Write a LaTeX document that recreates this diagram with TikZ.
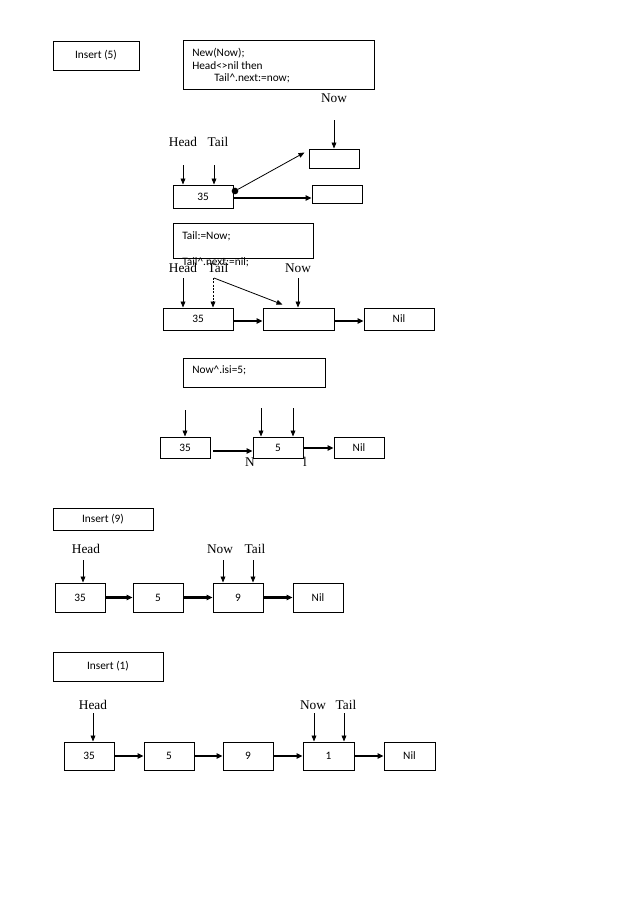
\documentclass[tikz,border=0pt]{standalone}
\usepackage{fontspec}
\setmainfont{Liberation Serif}
\newfontfamily\calfont{Carlito}
\usetikzlibrary{fit,calc,arrows.meta}
\begin{document}
\begin{tikzpicture}[x=0.75pt,y=-0.75pt,
  box/.style={draw,line width=0.75pt,inner sep=0pt,fill=white},
  txt/.style={inner sep=0pt,font=\calfont\fontsize{8.5}{10}\selectfont},
  code/.style={anchor=west,inner sep=0pt,font=\calfont\fontsize{8.5}{10}\selectfont},
  lbl/.style={inner sep=0pt,font=\fontsize{10}{12}\selectfont},
  ptr/.style={line width=0.6pt,-{Triangle[length=4.5pt,width=3.6pt]}},
  link/.style={line width=1.7pt,-{Triangle[length=4.5pt,width=4pt]}}]
\useasboundingbox (0,0) rectangle (638,903);

% ---------- Section 1 ----------
\node[box,fit={(53,41)(139,70)}] (ins5) {};
\node[txt] (ins5t) at (ins5.center) {Insert (5)};
\node[box,fit={(183,40)(374,89)}] (code1) {};
\node[code] (c1a) at (192,53) {New(Now);};
\node[code] (c1b) at (192,65.5) {Head<>nil then};
\node[code] (c1c) at (214,78) {Tail\textasciicircum.next:=now;};
\node[lbl] (now1) at (334,98) {Now};
\node[box,fit={(309,149)(359,168)}] (up1) {};
\node[box,fit={(312,185)(362,203)}] (lo1) {};
\node[box,fit={(173,185)(233,208)}] (a35) {};
\node[txt] (a35t) at (a35.center) {35};
\node[lbl] (head1) at (183,142) {Head};
\node[lbl] (tail1) at (218,142) {Tail};
\coordinate (now1s) at (334,120);
\coordinate (head1s) at (183,165);
\coordinate (tail1s) at (214,165);
\draw[ptr] (now1s) -- (now1s |- up1.north);
\draw[ptr] (head1s) -- (head1s |- a35.north);
\draw[ptr] (tail1s) -- (tail1s |- a35.north);
\node[circle,fill,inner sep=0pt,minimum size=5pt] (dot1) at (235,191) {};
\draw[ptr] (dot1) -- ($(up1.north west)+(-4,4)$);
\coordinate (l1s) at (233,198);
\draw[link] (l1s) -- (l1s -| lo1.west);

% ---------- Section 2 ----------
\node[box,fit={(173,223)(313,258)}] (code2) {};
\node[code] (c2a) at (182,236) {Tail:=Now;};
\node[lbl] (head2) at (183,268) {Head};
\node[lbl] (tail2) at (218,268) {Tail};
\node[lbl] (now2) at (298,268) {Now};
\node[code] (c2b) at (182,262) {Tail\textasciicircum.next:=nil;};
\node[box,fit={(163,308)(233,330)}] (b35) {};
\node[txt] (b35t) at (b35.center) {35};
\node[box,fit={(263,308)(334,330)}] (bmid) {};
\node[box,fit={(364,308)(434,330)}] (bnil) {};
\node[txt] (bnilt) at (bnil.center) {Nil};
\coordinate (head2s) at (183,278);
\coordinate (tail2s) at (213,278);
\coordinate (now2s) at (298,278);
\coordinate (diag2s) at (214,278);
\draw[ptr] (head2s) -- (head2s |- b35.north);
\draw[ptr,dash pattern=on 1.5pt off 1pt] (tail2s) -- (tail2s |- b35.north);
\draw[ptr] (now2s) -- (now2s |- bmid.north);
\draw[ptr] (diag2s) -- ($(bmid.north west)+(20,-3)$);
\coordinate (l2a) at (233,321);
\draw[link] (l2a) -- (l2a -| bmid.west);
\coordinate (l2b) at (334,321);
\draw[link] (l2b) -- (l2b -| bnil.west);

% ---------- Section 3 ----------
\node[box,fit={(183,358)(325,387)}] (code3) {};
\node[code] (c3a) at (192,370) {Now\textasciicircum.isi=5;};
\node[lbl] (nfrag) at (250,462) {N};
\node[lbl] (lfrag) at (305,462) {l};
\node[box,fit={(160,437)(210,458)}] (c35) {};
\node[txt] (c35t) at (c35.center) {35};
\node[box,fit={(253,437)(303,458)}] (c5) {};
\node[txt] (c5t) at (c5.center) {5};
\node[box,fit={(334,437)(384,458)}] (cnil) {};
\node[txt] (cnilt) at (cnil.center) {Nil};
\coordinate (p3a) at (185,410);
\coordinate (p3b) at (261,408);
\coordinate (p3c) at (293,408);
\draw[ptr] (p3a) -- (p3a |- c35.north);
\draw[ptr] (p3b) -- (p3b |- c5.north);
\draw[ptr] (p3c) -- (p3c |- c5.north);
\coordinate (l3a) at (213,451);
\draw[link] (l3a) -- (l3a -| c5.west);
\coordinate (l3b) at (303,448);
\draw[link] (l3b) -- (l3b -| cnil.west);

% ---------- Section 4 ----------
\node[box,fit={(53,508)(153,530)}] (ins9) {};
\node[txt] (ins9t) at (ins9.center) {Insert (9)};
\node[lbl] (head4) at (86,549) {Head};
\node[lbl] (now4) at (220,549) {Now};
\node[lbl] (tail4) at (255,549) {Tail};
\node[box,fit={(55,583)(105,612)}] (d35) {};
\node[box,fit={(133,583)(183,612)}] (d5) {};
\node[box,fit={(213,583)(263,612)}] (d9) {};
\node[box,fit={(293,583)(343,612)}] (dnil) {};
\node[txt] (d35t) at (d35.center) {35};
\node[txt] (d5t) at (d5.center) {5};
\node[txt] (d9t) at (d9.center) {9};
\node[txt] (dnilt) at (dnil.center) {Nil};
\coordinate (head4s) at (83,560);
\coordinate (now4s) at (223,560);
\coordinate (tail4s) at (253,560);
\draw[ptr] (head4s) -- (head4s |- d35.north);
\draw[ptr] (now4s) -- (now4s |- d9.north);
\draw[ptr] (tail4s) -- (tail4s |- d9.north);
\draw[link] (d35) -- (d5);
\draw[link] (d5) -- (d9);
\draw[link] (d9) -- (dnil);

% ---------- Section 5 ----------
\node[box,fit={(53,652)(163,681)}] (ins1) {};
\node[txt] (ins1t) at (ins1.center) {Insert (1)};
\node[lbl] (head5) at (93,705) {Head};
\node[lbl] (now5) at (313,705) {Now};
\node[lbl] (tail5) at (346,705) {Tail};
\node[box,fit={(64,742)(114,770)}] (e35) {};
\node[box,fit={(144,742)(194,770)}] (e5) {};
\node[box,fit={(223,742)(273,770)}] (e9) {};
\node[box,fit={(303,742)(354,770)}] (e1) {};
\node[box,fit={(384,742)(435,770)}] (enil) {};
\node[txt] (e35t) at (e35.center) {35};
\node[txt] (e5t) at (e5.center) {5};
\node[txt] (e9t) at (e9.center) {9};
\node[txt] (e1t) at (e1.center) {1};
\node[txt] (enilt) at (enil.center) {Nil};
\coordinate (head5s) at (93,713);
\coordinate (now5s) at (314,713);
\coordinate (tail5s) at (344,713);
\draw[ptr] (head5s) -- (head5s |- e35.north);
\draw[ptr] (now5s) -- (now5s |- e1.north);
\draw[ptr] (tail5s) -- (tail5s |- e1.north);
\draw[link] (e35) -- (e5);
\draw[link] (e5) -- (e9);
\draw[link] (e9) -- (e1);
\draw[link] (e1) -- (enil);
\end{tikzpicture}
\end{document}
